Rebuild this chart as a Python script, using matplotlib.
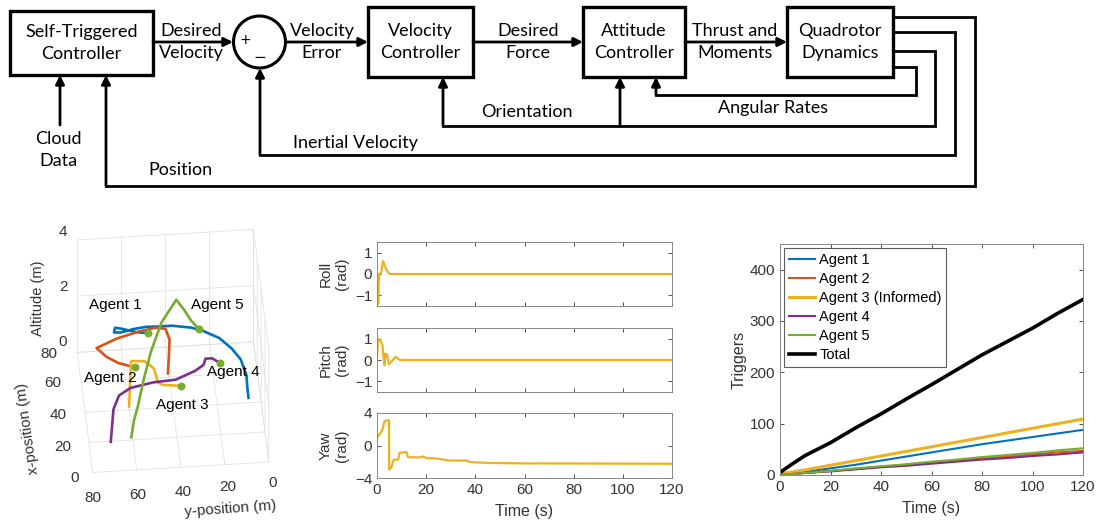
import numpy as np
import matplotlib.pyplot as plt
from matplotlib.patches import Rectangle, Circle

W, H = 1099, 522

# ---------------- 3D trajectories (x-position, y-position, altitude) ----------------
a1_x = [24.6, 31.7, 39.9, 50.4, 57.9, 65.3, 70.5, 73.3, 75.3, 75.3, 75.6, 74.6, 72.8, 73.2, 76.2, 75.2, 72.4, 71.4]
a1_y = [7.1, 7.0, 6.7, 8.4, 11.8, 16.8, 23.5, 28.9, 37.4, 43.3, 49.1, 55.0, 61.1, 63.9, 63.2, 60.0, 53.8, 48.8]
a1_z = [1.0] * len(a1_x)

a2_x = [44.0, 54.1, 66.2, 73.5, 74.6, 72.9, 69.0, 63.5, 57.3, 52.6, 49.3]
a2_y = [42.0, 40.7, 39.3, 40.5, 44.8, 52.3, 63.0, 72.7, 68.7, 63.5, 56.6]
a2_z = [1.0] * len(a2_x)

a3_x = [23.6, 39.8, 53.6, 52.9, 47.7, 38.4, 36.5, 35.2]
a3_y = [61.4, 59.5, 57.8, 51.8, 48.0, 47.0, 45.0, 36.8]
a3_z = [1.0] * len(a3_x)

a4_x = [1.0, 22.4, 31.3, 35.8, 38.6, 39.5, 44.6, 48.2, 52.2, 52.2, 49.0]
a4_y = [71.7, 68.6, 65.3, 59.7, 49.1, 38.8, 29.5, 25.4, 24.2, 21.3, 18.0]
a4_z = [1.0] * len(a4_x)

a5_x = [3.2, 14.2, 23.2, 41.1, 54.0, 65.0, 70.0, 70.2, 70.6, 70.2]
a5_y = [62.2, 60.0, 57.5, 53.2, 48.7, 43.0, 35.9, 32.2, 29.2, 25.6]
a5_z = [1.0, 1.0, 1.0, 1.0, 1.3, 1.7, 2.2, 1.8, 1.4, 1.1]

agent_names = ['Agent 1', 'Agent 2', 'Agent 3', 'Agent 4', 'Agent 5']
pos_ticks = [0, 20, 40, 60, 80]
alt_ticks = [0, 2, 4]

# ---------------- attitude of informed agent ----------------
roll_t = [0, 0.3, 0.5, 0.7, 1.0, 1.7, 2.4, 3.0, 4.0, 5.2, 120]
roll = [0, -0.6, -1.4, -0.4, 0.0, 0.05, 0.6, 0.45, 0.15, 0.0, 0.0]

pitch_t = [0, 0.4, 1.3, 2.2, 2.9, 3.1, 3.4, 4.1, 4.8, 5.8, 7.6, 9.3, 120]
pitch = [0, 1.0, 0.92, 0.7, -0.15, -0.25, 0.3, 0.25, -0.2, -0.08, 0.15, 0.0, 0.0]

yaw_t = [0, 0.8, 1.8, 2.4, 2.9, 3.8, 4.9, 4.95, 5.8, 6.8, 8.6, 9.2, 12.0, 12.6, 18.1, 18.8, 20.1,
         24.2, 28.3, 29.6, 36.4, 37.8, 45.9, 59.5, 120]
yaw = [0.9, 1.3, 1.7, 2.1, 2.9, 3.1, 3.1, -2.95, -2.75, -1.75, -1.75, -0.9, -0.8, -1.45, -1.45, -1.35,
       -1.55, -1.6, -1.8, -1.85, -1.85, -2.05, -2.15, -2.2, -2.25]

# ---------------- cumulative triggers ----------------
trig_t = [0, 5, 10, 20, 30, 40, 50, 60, 70, 80, 90, 100, 110, 120]
trig_a1 = [1, 3, 6, 13, 20, 28, 36, 44, 52, 60, 67, 74, 81, 88]
trig_a2 = [0, 2, 4, 8, 12, 16, 20, 24, 28, 32, 36, 40, 44, 47]
trig_a3 = [2, 6, 10, 19, 28, 37, 46, 55, 64, 73, 82, 91, 100, 109]
trig_a4 = [0, 2, 4, 7, 11, 15, 18, 22, 26, 30, 33, 37, 40, 44]
trig_a5 = [0, 2, 4, 8, 13, 17, 21, 26, 30, 35, 39, 43, 48, 52]
trig_total = [5, 22, 38, 63, 92, 119, 148, 176, 205, 234, 260, 286, 315, 342]
trig_labels = ['Agent 1', 'Agent 2', 'Agent 3 (Informed)', 'Agent 4', 'Agent 5', 'Total']

C_BLUE, C_RED, C_YEL, C_PUR, C_GRN = '#0072BD', '#D95319', '#EDB120', '#7E2F8E', '#77AC30'
TXT = '#333333'

plt.rcParams['font.family'] = ['Liberation Sans', 'DejaVu Sans']
fig = plt.figure(figsize=(W / 100, H / 100), dpi=100)


def rect(l, t, r, b):
    return [l / W, 1 - b / H, (r - l) / W, (b - t) / H]


def ptext(px, py, s, **kw):
    # text placed in figure pixels measured from the top-left corner
    return fig.text(px / W, 1 - py / H, s, **kw)


# ================= block diagram =================
ax0 = fig.add_axes([0, 0, 1, 1])
ax0.set_xlim(0, W)
ax0.set_ylim(H, 0)
ax0.axis('off')
LW = 2.0
dfont = dict(family='Lato', fontsize=13, color='k', ha='center', va='center', linespacing=1.4)

boxes = [(10, 11, 153, 75, 'Self-Triggered\nController'),
         (368, 7, 473, 77, 'Velocity\nController'),
         (583, 7, 685, 77, 'Attitude\nController'),
         (787, 7, 893, 77, 'Quadrotor\nDynamics')]
for l, t, r, b, txt in boxes:
    ax0.add_patch(Rectangle((l, t), r - l, b - t, fill=False, lw=2.4, ec='k', joinstyle='miter'))
    ax0.text((l + r) / 2, (t + b) / 2, txt, **dfont)

ax0.add_patch(Circle((259.5, 42), 26, fill=False, lw=2.2, ec='k'))
ax0.text(245, 40, '+', family='DejaVu Sans', fontsize=10, ha='center', va='center')
ax0.text(260, 58, '\u2212', family='DejaVu Sans', fontsize=11, ha='center', va='center')


def arrow(path):
    xs, ys = zip(*path)
    ax0.plot(xs[:-1], ys[:-1], color='k', lw=LW, solid_joinstyle='miter', solid_capstyle='projecting')
    ax0.annotate('', xy=path[-1], xytext=path[-2],
                 arrowprops=dict(arrowstyle='-|>', color='k', lw=LW, mutation_scale=13,
                                 shrinkA=0, shrinkB=0))


arrow([(153, 42), (233, 42)])
arrow([(286, 42), (368, 42)])
arrow([(473, 42), (583, 42)])
arrow([(685, 42), (787, 42)])
arrow([(893, 67), (916, 67), (916, 95), (656, 95), (656, 77)])
arrow([(893, 51), (935, 51), (935, 126), (443, 126), (443, 77)])
arrow([(620, 126), (620, 77)])
arrow([(893, 32), (955, 32), (955, 155), (260, 155), (260, 68)])
arrow([(893, 17), (975, 17), (975, 186), (106, 186), (106, 75)])
arrow([(60, 125), (60, 75)])

ax0.text(191, 42, 'Desired\nVelocity', **dfont)
ax0.text(322, 42, 'Velocity\nError', **dfont)
ax0.text(528, 42, 'Desired\nForce', **dfont)
ax0.text(735, 42, 'Thrust and\nMoments', **dfont)
ax0.text(773, 108, 'Angular Rates', **dfont)
ax0.text(527, 112, 'Orientation', **dfont)
ax0.text(355, 143, 'Inertial Velocity', **dfont)
ax0.text(180, 170, 'Position', **dfont)
ax0.text(58, 150, 'Cloud\nData', **dfont)

# ================= 3D trajectories =================
ax3 = fig.add_axes(rect(19, 201, 319, 509), projection='3d')
ax3.set_proj_type('ortho')
ax3.view_init(elev=43, azim=175)
ax3.set_box_aspect((1, 1, 0.87), zoom=0.95)
trajs = [(a1_x, a1_y, a1_z, C_BLUE), (a2_x, a2_y, a2_z, C_RED), (a3_x, a3_y, a3_z, C_YEL),
         (a4_x, a4_y, a4_z, C_PUR), (a5_x, a5_y, a5_z, C_GRN)]
for xs, ys, zs, c in trajs:
    ax3.plot(xs, ys, zs, color=c, lw=1.9)
    ax3.scatter([xs[-1]], [ys[-1]], [zs[-1]], color=C_GRN, s=22, depthshade=False, zorder=5)
ax3.set_xlim(0, 80)
ax3.set_ylim(0, 80)
ax3.set_zlim(0, 4)
ax3.set_xticks(pos_ticks)
ax3.set_yticks(pos_ticks)
ax3.set_zticks(alt_ticks)
ax3.set_xticklabels([])
ax3.set_yticklabels([])
ax3.set_zticklabels([])
for axis in (ax3.xaxis, ax3.yaxis, ax3.zaxis):
    axis.set_pane_color((1, 1, 1, 0))
    axis.pane.set_edgecolor('#666666')
    axis.pane.set_linewidth(0.8)
    axis.line.set_visible(False)
    axis._axinfo['grid'].update(color='#e2e2e2', linewidth=0.6)
    axis._axinfo['tick'].update(inward_factor=0, outward_factor=0)

# tick labels of the 3D box, at the spots where the reference shows them
tk = dict(fontsize=11, color=TXT, ha='center', va='center')
for v, py in zip(alt_ticks, [342, 287, 232]):
    ptext(63, py, str(v), **tk)
for v, (px, py) in zip(pos_ticks, [(75, 478), (63, 447), (58, 415), (53, 383), (49, 354)]):
    ptext(px, py, str(v), **tk)
for v, (px, py) in zip(pos_ticks, [(273, 483), (228, 487), (183, 492), (138, 495), (93, 498)]):
    ptext(px, py, str(v), **tk)

ptext(38, 298, 'Altitude (m)', fontsize=10.5, color=TXT, rotation=90, ha='center', va='center')
ptext(28, 428, 'x-position (m)', fontsize=11, color=TXT, rotation=98, ha='center', va='center')
ptext(230, 509, 'y-position (m)', fontsize=11, color=TXT, rotation=4, ha='center', va='center')

lbl_pos = [(115, 305), (110, 378), (182, 405), (233, 372), (217, 305)]
for (px, py), name in zip(lbl_pos, agent_names):
    ptext(px, py, name, fontsize=11, color='k', ha='center', va='center')

# ================= roll / pitch / yaw =================
att = [(roll_t, roll, 'Roll\n(rad)', (-1.5, 1.5), [-1, 0, 1], (242, 306)),
       (pitch_t, pitch, 'Pitch\n(rad)', (-1.5, 1.5), [-1, 0, 1], (328, 392)),
       (yaw_t, yaw, 'Yaw\n(rad)', (-4, 4), [-4, 0, 4], (413, 478))]
for i, (t, v, lab, yl, yt, (top, bot)) in enumerate(att):
    ax = fig.add_axes(rect(377, top, 672, bot))
    ax.plot(t, v, color=C_YEL, lw=1.6)
    ax.set_xlim(0, 120)
    ax.set_ylim(*yl)
    ax.set_yticks(yt)
    ax.set_xticks(range(0, 121, 20))
    ax.tick_params(direction='in', top=True, right=True, labelsize=11, colors=TXT, length=3, width=0.6)
    ax.set_ylabel(lab, fontsize=11, color=TXT, labelpad=4)
    for s in ax.spines.values():
        s.set_color('#888888')
        s.set_linewidth(0.7)
    if i < 2:
        ax.set_xticklabels([])
    else:
        ax.set_xlabel('Time (s)', fontsize=11.5, color=TXT, labelpad=5)

# ================= triggers =================
axt = fig.add_axes(rect(780, 244, 1083, 475))
series = [trig_a1, trig_a2, trig_a3, trig_a4, trig_a5, trig_total]
cols = [C_BLUE, C_RED, C_YEL, C_PUR, C_GRN, 'k']
lws = [1.5, 1.5, 2.2, 1.5, 1.5, 2.6]
for s, c, w, lab in zip(series, cols, lws, trig_labels):
    axt.plot(trig_t, s, color=c, lw=w, label=lab)
axt.set_xlim(0, 120)
axt.set_ylim(0, 450)
axt.set_xticks(range(0, 121, 20))
axt.set_yticks([0, 100, 200, 300, 400])
axt.tick_params(direction='in', top=True, right=True, labelsize=11, colors=TXT, length=3, width=0.6)
for s in axt.spines.values():
    s.set_color('#888888')
    s.set_linewidth(0.7)
axt.set_xlabel('Time (s)', fontsize=11.5, color=TXT, labelpad=5)
axt.set_ylabel('Triggers', fontsize=11.5, color=TXT, labelpad=2)
leg = axt.legend(loc='upper left', fontsize=10.5, frameon=True, fancybox=False, borderpad=0.3,
                 labelspacing=0.35, handlelength=1.8, handletextpad=0.3, borderaxespad=0.3)
leg.get_frame().set_edgecolor('#333333')
leg.get_frame().set_linewidth(0.8)

fig.savefig('out.png', dpi=100)
